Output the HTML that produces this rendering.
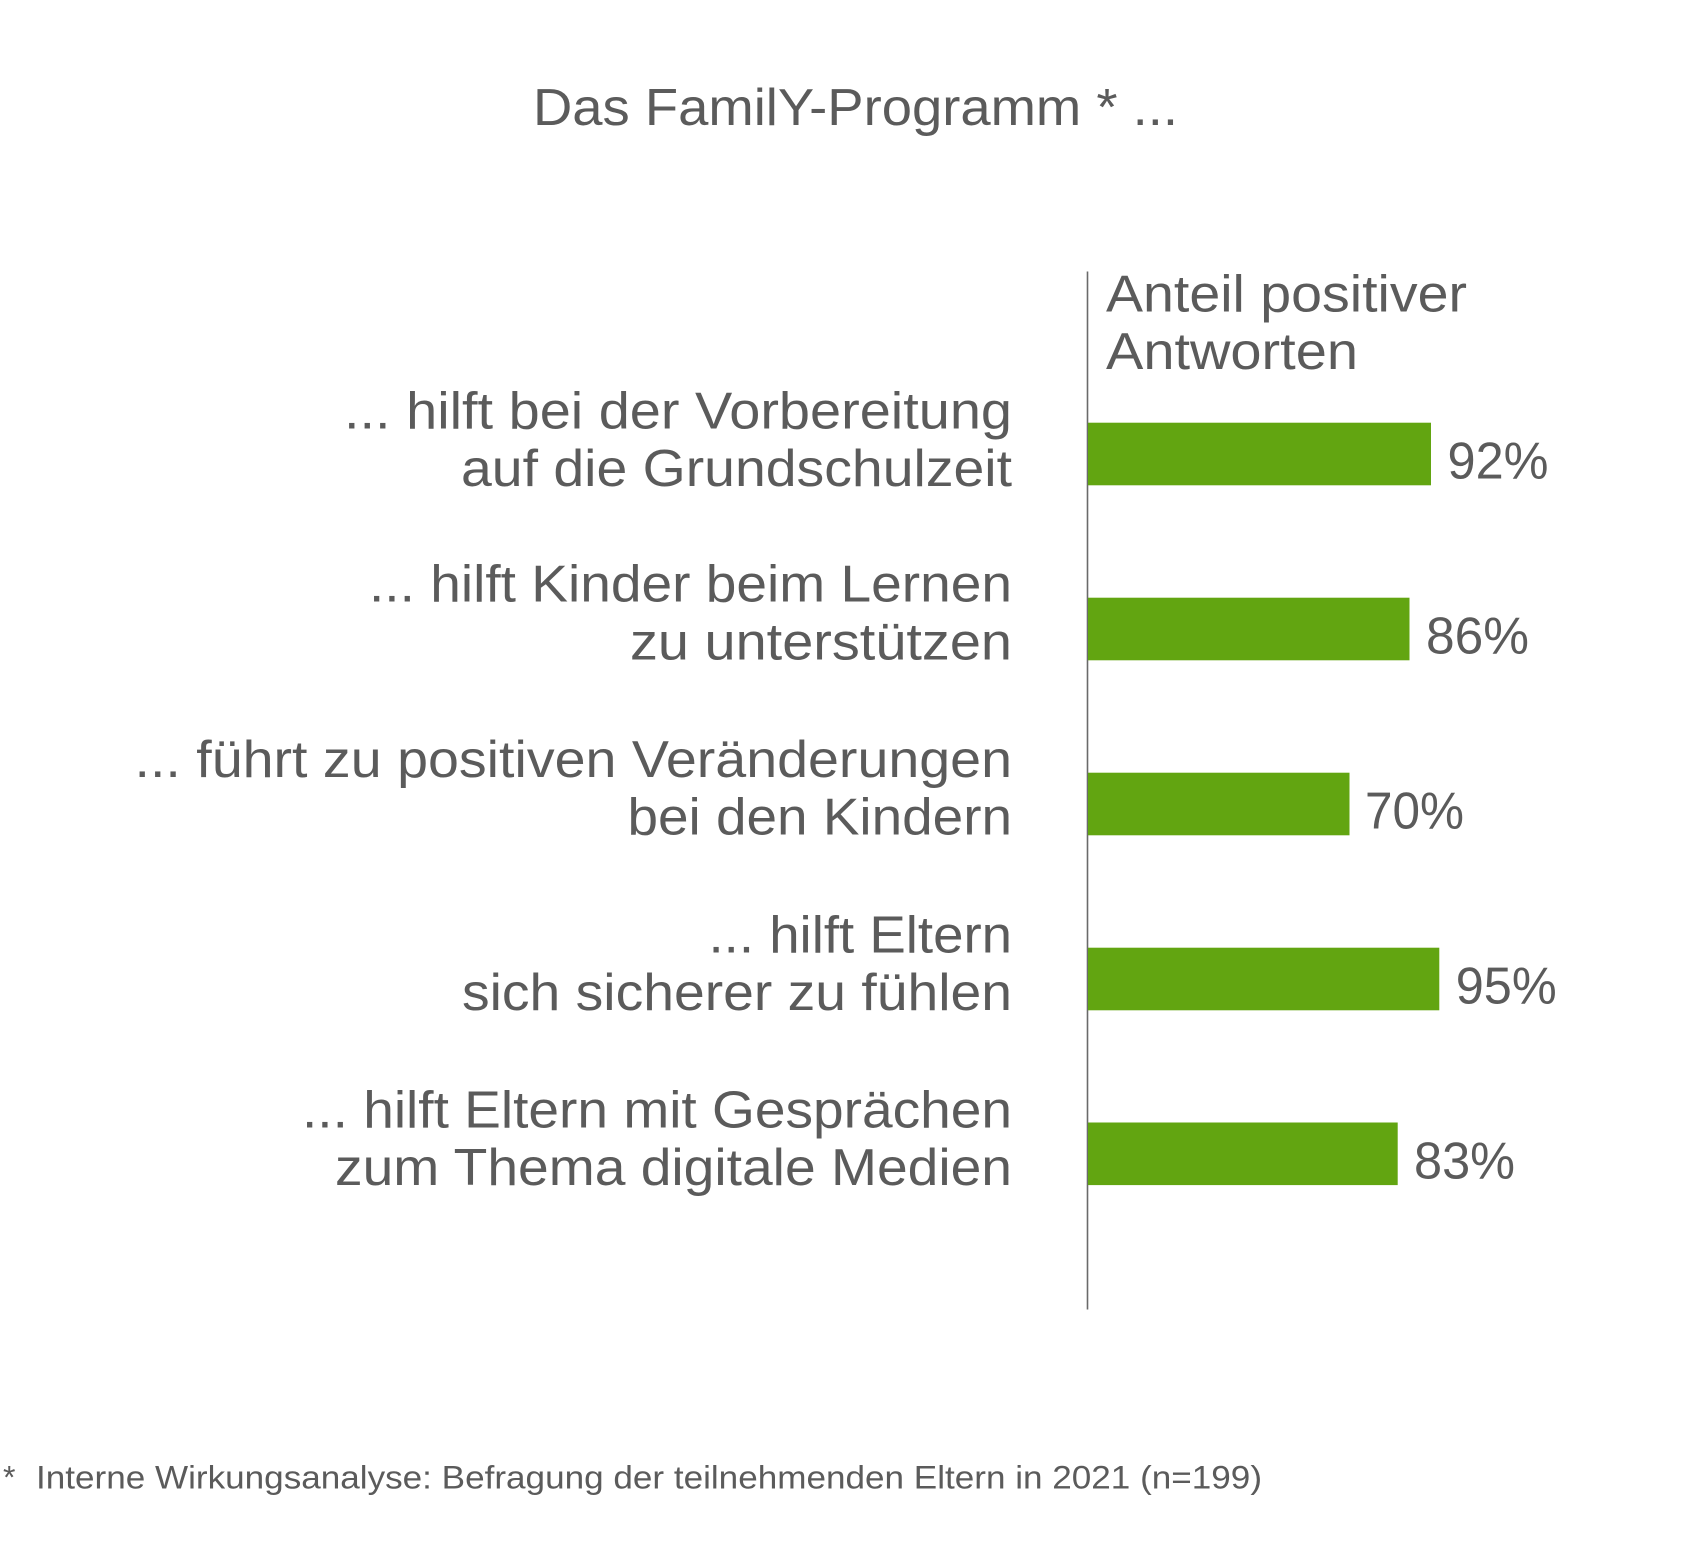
<!DOCTYPE html>
<html>
<head>
<meta charset="utf-8">
<style>
  html, body { margin: 0; padding: 0; background: #ffffff; }
  svg { display: block; }
  text { font-family: "Liberation Sans", "DejaVu Sans", sans-serif; fill: #5b5b5b; }
</style>
</head>
<body>
<svg width="1708" height="1563" viewBox="0 0 1708 1563" xmlns="http://www.w3.org/2000/svg">
  <rect x="0" y="0" width="1708" height="1563" fill="#ffffff"/>

  <!-- Title -->
  <text x="533" y="125" font-size="52" textLength="645" lengthAdjust="spacingAndGlyphs">Das FamilY-Programm * ...</text>

  <!-- Axis -->
  <line x1="1087.5" y1="271.5" x2="1087.5" y2="1309.5" stroke="#6a6a6a" stroke-width="1.6"/>

  <!-- Header -->
  <text x="1106" y="311.7" font-size="52" textLength="361" lengthAdjust="spacingAndGlyphs">Anteil positiver</text>
  <text x="1106" y="369" font-size="52" textLength="252" lengthAdjust="spacingAndGlyphs">Antworten</text>

  <!-- Bars -->
  <rect x="1088" y="422.7" width="343" height="62.6" fill="#62a511"/>
  <rect x="1088" y="597.7" width="321.5" height="62.6" fill="#62a511"/>
  <rect x="1088" y="772.7" width="261.5" height="62.6" fill="#62a511"/>
  <rect x="1088" y="947.7" width="351.3" height="62.6" fill="#62a511"/>
  <rect x="1088" y="1122.5" width="309.7" height="62.6" fill="#62a511"/>

  <!-- Value labels -->
  <text x="1447.5" y="478.7" font-size="52" textLength="101" lengthAdjust="spacingAndGlyphs">92%</text>
  <text x="1426" y="653.7" font-size="52" textLength="103" lengthAdjust="spacingAndGlyphs">86%</text>
  <text x="1365" y="828.7" font-size="52" textLength="99" lengthAdjust="spacingAndGlyphs">70%</text>
  <text x="1455.7" y="1003.5" font-size="52" textLength="101" lengthAdjust="spacingAndGlyphs">95%</text>
  <text x="1414" y="1178.3" font-size="52" textLength="101" lengthAdjust="spacingAndGlyphs">83%</text>

  <!-- Category labels -->
  <text x="344" y="428.3" font-size="52" textLength="668" lengthAdjust="spacingAndGlyphs">... hilft bei der Vorbereitung</text>
  <text x="461" y="486" font-size="52" textLength="551" lengthAdjust="spacingAndGlyphs">auf die Grundschulzeit</text>

  <text x="369" y="601.7" font-size="52" textLength="643" lengthAdjust="spacingAndGlyphs">... hilft Kinder beim Lernen</text>
  <text x="630" y="659.3" font-size="52" textLength="382" lengthAdjust="spacingAndGlyphs">zu unterstützen</text>

  <text x="134.5" y="777" font-size="52" textLength="877.5" lengthAdjust="spacingAndGlyphs">... führt zu positiven Veränderungen</text>
  <text x="627.5" y="834.6" font-size="52" textLength="384.5" lengthAdjust="spacingAndGlyphs">bei den Kindern</text>

  <text x="708.5" y="952.3" font-size="52" textLength="303.5" lengthAdjust="spacingAndGlyphs">... hilft Eltern</text>
  <text x="462" y="1010" font-size="52" textLength="550" lengthAdjust="spacingAndGlyphs">sich sicherer zu fühlen</text>

  <text x="302" y="1127.7" font-size="52" textLength="710" lengthAdjust="spacingAndGlyphs">... hilft Eltern mit Gesprächen</text>
  <text x="335" y="1185" font-size="52" textLength="677" lengthAdjust="spacingAndGlyphs">zum Thema digitale Medien</text>

  <!-- Footnote -->
  <text x="3" y="1488.3" font-size="32">*</text>
  <text x="36" y="1488.3" font-size="32" textLength="1226" lengthAdjust="spacingAndGlyphs">Interne Wirkungsanalyse: Befragung der teilnehmenden Eltern in 2021 (n=199)</text>
</svg>
</body>
</html>
